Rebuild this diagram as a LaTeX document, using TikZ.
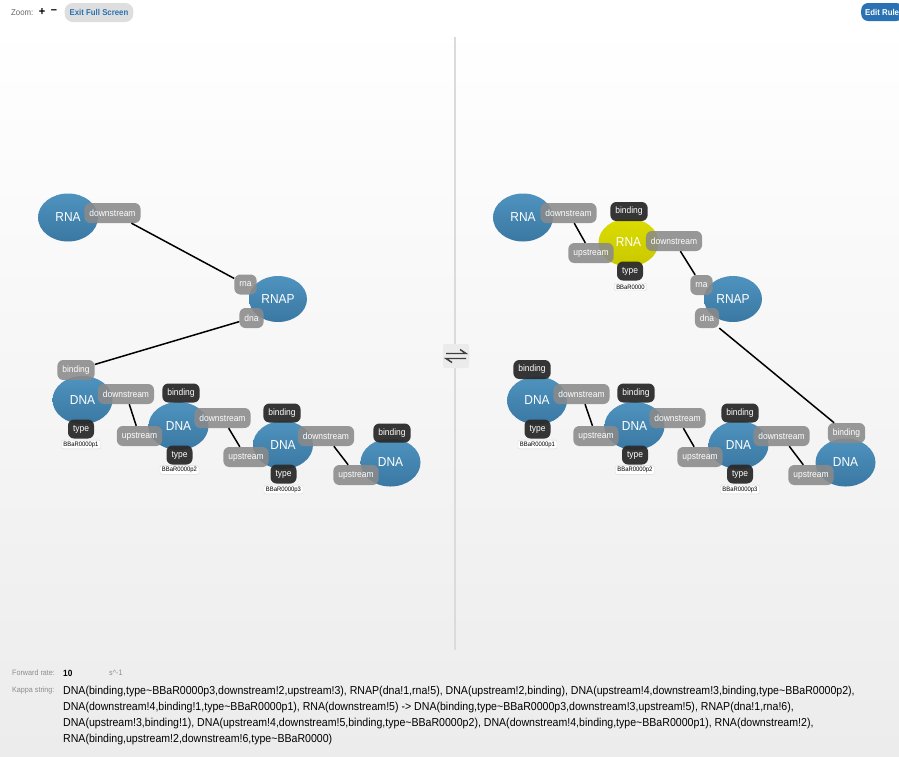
\documentclass[tikz,border=0pt]{standalone}
\usepackage{fontspec}
\setmainfont{Liberation Sans}[FakeStretch=0.92]
\usetikzlibrary{shapes,positioning}

\definecolor{agenttop}{HTML}{4E93BE}
\definecolor{agentbot}{HTML}{3A78A3}
\definecolor{rnatop}{HTML}{DCDC00}
\definecolor{rnabot}{HTML}{C8C800}
\definecolor{portgray}{HTML}{8A8A8A}
\definecolor{portdark}{HTML}{2B2B2B}
\definecolor{bggray}{HTML}{ECECEC}
\definecolor{btnblue}{HTML}{2A72B4}
\definecolor{labelgray}{HTML}{8C8C8C}

\newcommand{\kt}{\textasciitilde}

\tikzset{
  agent/.style={ellipse, minimum width=60, minimum height=48, inner sep=0pt,
    top color=agenttop, bottom color=agentbot, text=white,
    font=\fontsize{13}{13}\selectfont},
  agenty/.style={agent, top color=rnatop, bottom color=rnabot},
  port/.style={rectangle, rounded corners=6pt, fill=portgray, fill opacity=0.88,
    text opacity=1, text=white, minimum height=20, inner xsep=5pt, inner ysep=0pt,
    font=\fontsize{9.2}{9}\selectfont},
  darkport/.style={port, fill=portdark, fill opacity=0.95, minimum height=19},
  statebox/.style={rectangle, rounded corners=2pt, draw=black!15, fill=white,
    inner xsep=2pt, inner ysep=1.5pt, font=\fontsize{6.4}{7}\selectfont},
  bond/.style={line width=1.5pt},
  harpoon/.style={black!75, line width=1.4pt},
  kappa/.style={anchor=west, inner sep=0pt, font=\fontsize{11.5}{12}\selectfont},
  small/.style={anchor=west, inner sep=0pt, text=labelgray, font=\fontsize{7.8}{8}\selectfont},
}

\begin{document}
\begin{tikzpicture}[x=1pt,y=-1pt]
\useasboundingbox (0,0) rectangle (899,756);
\fill[top color=white, bottom color=bggray] (0,24) rectangle (899,756);

% top bar
\node[small, text=black!60, font=\fontsize{8.5}{9}\selectfont] (zoomlbl) at (11,13) {Zoom:};
\node[inner sep=0pt, font=\bfseries\fontsize{12}{12}\selectfont] (zoomin) at (42,12) {+};
\node[inner sep=0pt, font=\bfseries\fontsize{12}{12}\selectfont] (zoomout) at (54,12) {--};
\node[fill=black!13, rounded corners=8pt, minimum height=19, inner xsep=5pt,
  text=btnblue, font=\bfseries\fontsize{8.5}{9}\selectfont] (exitbtn) at (99,12.5) {Exit Full Screen};
\begin{scope}
\clip (0,0) rectangle (899,756);
\node[fill=btnblue, rounded corners=7pt, minimum height=18, inner xsep=4pt, anchor=west,
  text=white, font=\bfseries\fontsize{8.5}{9}\selectfont] (editbtn) at (861,12) {Edit Rule};
\end{scope}

% divider and reversible arrow
\draw[black!14, line width=2pt] (455,37) -- (455,650);
\node[fill=black!8, rounded corners=2pt, minimum width=26, minimum height=24, inner sep=0pt] (revarrow) at (456,356) {};
\draw[harpoon] (446,353.5) -- (466,353.5) -- (460,349.5);
\draw[harpoon] (466,358.5) -- (446,358.5) -- (452,362.5);

% left hand side: agents
\node[agent] (lrna) at (68,217.5) {RNA};
\node[agent, minimum width=58, minimum height=46] (lrnap) at (278,299) {RNAP};
\node[agent] (ldnaA) at (82.5,400) {DNA};
\node[agent] (ldnaB) at (178.5,426) {DNA};
\node[agent] (ldnaC) at (283,445) {DNA};
\node[agent] (ldnaD) at (390.5,462.5) {DNA};

% left hand side: sites
\node[port] (lrnads) at (112.5,213) {downstream};
\node[port] (lrnaprna) at (245.5,284.5) {rna};
\node[port] (lrnapdna) at (251.5,318) {dna};
\node[port] (lAbind) at (76,370) {binding};
\node[port] (lAds) at (126,394) {downstream};
\node[darkport] (lAtype) at (81,429) {type};
\node[statebox] (lAstate) at (81,444.5) {BBaR0000p1};
\node[darkport] (lBbind) at (181,393) {binding};
\node[port] (lBds) at (222.5,418) {downstream};
\node[port] (lBus) at (139.5,436) {upstream};
\node[darkport] (lBtype) at (179.5,455) {type};
\node[statebox] (lBstate) at (179.5,470) {BBaR0000p2};
\node[darkport] (lCbind) at (282,413) {binding};
\node[port] (lCds) at (326,436) {downstream};
\node[port] (lCus) at (246,457) {upstream};
\node[darkport] (lCtype) at (283.5,474) {type};
\node[statebox] (lCstate) at (283.5,489.5) {BBaR0000p3};
\node[darkport] (lDbind) at (392,433) {binding};
\node[port] (lDus) at (356,475) {upstream};

% left hand side: bonds
\draw[bond] (lrnads) -- (lrnaprna);
\draw[bond] (lrnapdna) -- (lAbind);
\draw[bond] (lAds) -- (lBus);
\draw[bond] (lBds) -- (lCus);
\draw[bond] (lCds) -- (lDus);

% right hand side: agents
\node[agent] (rrna) at (523,217.5) {RNA};
\node[agenty] (rrnay) at (628.5,242.5) {RNA};
\node[agent, minimum width=58, minimum height=46] (rrnap) at (733,299) {RNAP};
\node[agent] (rdnaA) at (537,400.5) {DNA};
\node[agent] (rdnaB) at (634.5,426) {DNA};
\node[agent] (rdnaC) at (738.5,445) {DNA};
\node[agent] (rdnaD) at (845.5,462.5) {DNA};

% right hand side: sites
\node[port] (rrnads) at (568.5,213) {downstream};
\node[darkport] (rYbind) at (629,211.5) {binding};
\node[port] (rYds) at (674,241) {downstream};
\node[port] (rYus) at (591,253) {upstream};
\node[darkport] (rYtype) at (630,271) {type};
\node[statebox] (rYstate) at (630.5,287) {BBaR0000};
\node[port] (rrnaprna) at (701.5,285) {rna};
\node[port] (rrnapdna) at (707,318) {dna};
\node[darkport] (rAbind) at (532,369.5) {binding};
\node[port] (rAds) at (581.5,394) {downstream};
\node[darkport] (rAtype) at (537.5,429) {type};
\node[statebox] (rAstate) at (537.5,444.5) {BBaR0000p1};
\node[darkport] (rBbind) at (636,393) {binding};
\node[port] (rBds) at (677.5,418) {downstream};
\node[port] (rBus) at (596,436) {upstream};
\node[darkport] (rBtype) at (635,455) {type};
\node[statebox] (rBstate) at (635,470) {BBaR0000p2};
\node[darkport] (rCbind) at (740,413) {binding};
\node[port] (rCds) at (781.5,436) {downstream};
\node[port] (rCus) at (700,457) {upstream};
\node[darkport] (rCtype) at (740,474) {type};
\node[statebox] (rCstate) at (740,489.5) {BBaR0000p3};
\node[port] (rDbind) at (846.5,433) {binding};
\node[port] (rDus) at (811,475) {upstream};

% right hand side: bonds
\draw[bond] (rrnads) -- (rYus);
\draw[bond] (rYds) -- (rrnaprna);
\draw[bond] (rrnapdna) -- (rDbind);
\draw[bond] (rAds) -- (rBus);
\draw[bond] (rBds) -- (rCus);
\draw[bond] (rCds) -- (rDus);

% rule text
\node[small] (ratelbl) at (12,673) {Forward rate:};
\node[kappa, font=\bfseries\fontsize{9}{9}\selectfont] (rateval) at (63,673) {10};
\node[small] (rateunit) at (109,673) {s\^{}-1};
\node[small] (kappalbl) at (12,690) {Kappa string:};
\node[kappa] (kappaA) at (63,692) {DNA(binding,type\kt BBaR0000p3,downstream!2,upstream!3), RNAP(dna!1,rna!5), DNA(upstream!2,binding), DNA(upstream!4,downstream!3,binding,type\kt BBaR0000p2),};
\node[kappa] (kappaB) at (63,708) {DNA(downstream!4,binding!1,type\kt BBaR0000p1), RNA(downstream!5) -> DNA(binding,type\kt BBaR0000p3,downstream!3,upstream!5), RNAP(dna!1,rna!6),};
\node[kappa] (kappaC) at (63,724) {DNA(upstream!3,binding!1), DNA(upstream!4,downstream!5,binding,type\kt BBaR0000p2), DNA(downstream!4,binding,type\kt BBaR0000p1), RNA(downstream!2),};
\node[kappa] (kappaD) at (63,740) {RNA(binding,upstream!2,downstream!6,type\kt BBaR0000)};
\end{tikzpicture}
\end{document}
